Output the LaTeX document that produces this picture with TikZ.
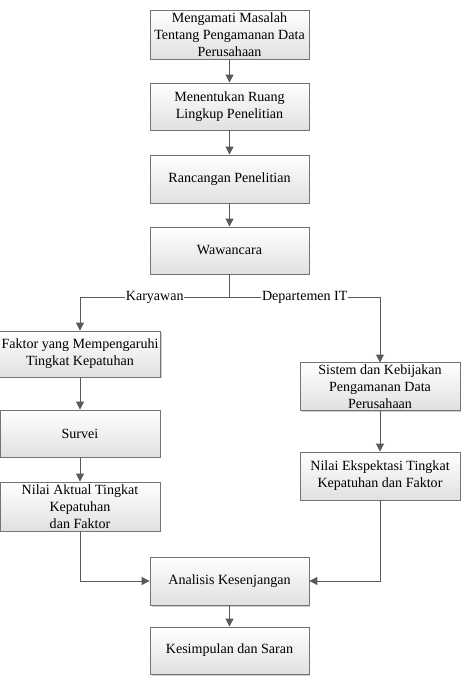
\documentclass[tikz,border=0pt]{standalone}
\usepackage{fontspec}
\setmainfont{Liberation Serif}
\usetikzlibrary{arrows.meta,shadows}

\begin{document}
\begin{tikzpicture}[x=0.02cm,y=0.02cm]
\tikzstyle{every node}+=[font=\fontsize{8}{9.6}\selectfont]
\tikzstyle{box}=[draw=black!55, line width=0.5pt, top color=white, bottom color=black!12,
  drop shadow={shadow xshift=0.03cm, shadow yshift=-0.03cm, fill=black!40, opacity=0.5},
  minimum width=3.18cm, align=center, inner sep=1pt]
\tikzstyle{arr}=[draw=black!65, line width=0.5pt, -{Triangle[width=4.5pt,length=4.5pt]}]
\tikzstyle{lbl}=[fill=white, inner sep=0.3pt]
\useasboundingbox (0,0) rectangle (463,-685);
\node [box, minimum height=0.98cm] (amati) at (229.5,-34.5) {Mengamati Masalah\\Tentang Pengamanan Data\\Perusahaan};
\node [box, minimum height=0.94cm] (ruang) at (229.5,-106.5) {Menentukan Ruang\\Lingkup Penelitian};
\node [box, minimum height=0.96cm] (rancang) at (229.5,-179) {Rancangan Penelitian};
\node [box, minimum height=0.94cm] (wawan) at (229.5,-250.5) {Wawancara};
\coordinate (cabang) at (229.5,-297);
\node [box, minimum height=0.92cm, minimum width=3.2cm] (faktor) at (80,-354) {Faktor yang Mempengaruhi\\Tingkat Kepatuhan};
\node [box, minimum height=0.94cm, minimum width=3.2cm] (survei) at (80,-433.5) {Survei};
\node [box, minimum height=0.98cm, minimum width=3.2cm] (aktual) at (80,-506.5) {Nilai Aktual Tingkat\\Kepatuhan\\dan Faktor};
\node [box, minimum height=0.94cm, minimum width=3.2cm] (sistem) at (380,-386.5) {Sistem dan Kebijakan\\Pengamanan Data\\Perusahaan};
\node [box, minimum height=0.96cm, minimum width=3.2cm] (harap) at (380,-476) {Nilai Ekspektasi Tingkat\\Kepatuhan dan Faktor};
\node [box, minimum height=0.96cm] (analisis) at (229.5,-581) {Analisis Kesenjangan};
\node [box, minimum height=0.94cm] (simpul) at (229.5,-650.5) {Kesimpulan dan Saran};
\draw [arr] (amati) -- (ruang);
\draw [arr] (ruang) -- (rancang);
\draw [arr] (rancang) -- (wawan);
\draw [arr, -] (wawan) -- (cabang);
\draw [arr] (cabang) -- node [lbl] {Karyawan} (cabang -| faktor) -- (faktor);
\draw [arr] (cabang) -- node [lbl] {Departemen IT} (cabang -| sistem) -- (sistem);
\draw [arr] (faktor) -- (survei);
\draw [arr] (survei) -- (aktual);
\draw [arr] (sistem) -- (harap);
\draw [arr] (aktual) |- (analisis);
\draw [arr] (harap) |- (analisis);
\draw [arr] (analisis) -- (simpul);
\end{tikzpicture}
\end{document}
